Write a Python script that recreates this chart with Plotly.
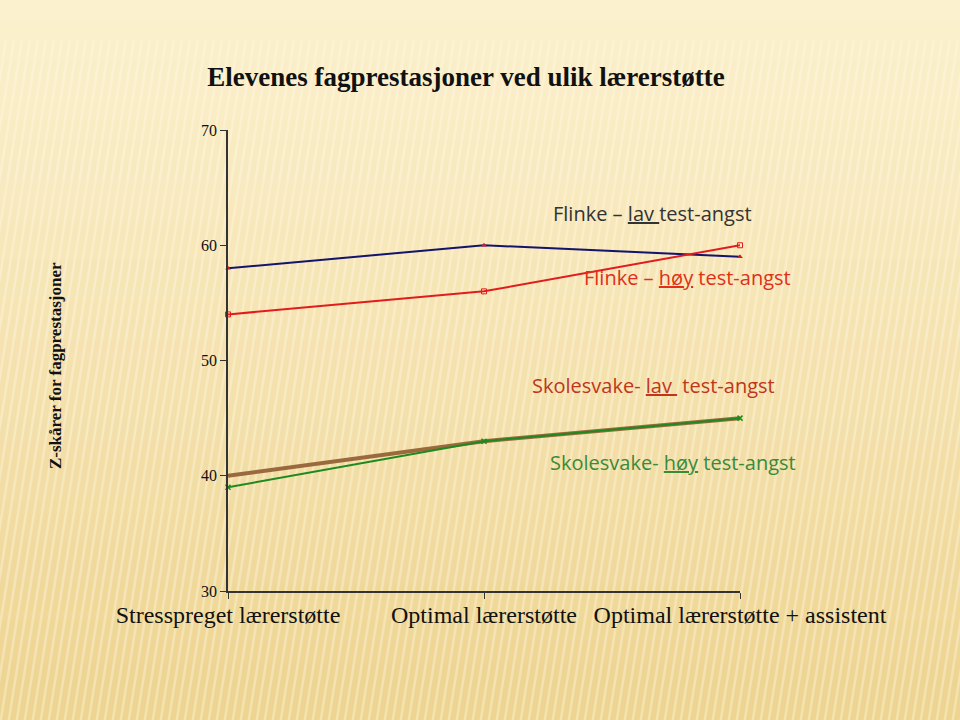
import plotly.graph_objects as go
import numpy as np

categories = ["Stresspreget lærerstøtte", "Optimal lærerstøtte", "Optimal lærerstøtte + assistent"]
flinke_lav = [58, 60, 59]
flinke_hoy = [54, 56, 60]
svake_lav = [40, 43, 45]
svake_hoy = [39, 43, 45]
y_ticks = [30, 40, 50, 60, 70]

xpos = [0, 1, 2]

# plot area geometry in pixels (for converting decorative positions)
L, R, T, B = 228, 740, 130, 591
W, H = R - L, B - T


def px(x):
    return (x - L) / W


def py(y):
    return (B - y) / H


fig = go.Figure()

fig.add_trace(go.Scatter(x=xpos, y=svake_lav, mode="lines", line=dict(color="#9a6a3e", width=4),
                         cliponaxis=False, showlegend=False))
fig.add_trace(go.Scatter(x=xpos, y=svake_hoy, mode="lines+markers", line=dict(color="#1e8a1e", width=2),
                         marker=dict(symbol="x-thin", size=5, line=dict(color="#1e8a1e", width=1.5)),
                         cliponaxis=False, showlegend=False))
fig.add_trace(go.Scatter(x=xpos, y=flinke_lav, mode="lines+markers", line=dict(color="#14146e", width=2),
                         marker=dict(symbol="triangle-up", size=5, color="#d02020"),
                         cliponaxis=False, showlegend=False))
fig.add_trace(go.Scatter(x=xpos, y=flinke_hoy, mode="lines+markers", line=dict(color="#e21c1c", width=2),
                         marker=dict(symbol="square-open", size=5, color="#e21c1c"),
                         cliponaxis=False, showlegend=False))

# background gradient (decorative)
shapes = []
n = 36
top = np.array([252, 241, 206])
bot = np.array([238, 212, 145])
for i in range(n):
    t = i / (n - 1)
    c = top * (1 - t) + bot * t
    y0 = 720 * i / n
    y1 = 720 * (i + 1) / n + 1
    shapes.append(dict(type="rect", xref="paper", yref="paper", layer="below",
                       x0=px(-5), x1=px(965), y0=py(y1), y1=py(y0),
                       fillcolor=f"rgb({int(c[0])},{int(c[1])},{int(c[2])})", line=dict(width=0)))
# subtle stripes
for k in range(-20, 130):
    xb = k * 8
    shapes.append(dict(type="line", xref="paper", yref="paper", layer="below",
                       x0=px(xb), x1=px(xb + 110),
                       y0=py(725), y1=py(40),
                       line=dict(color="rgba(255,252,235,0.35)", width=2.5)))

fig.update_layout(
    width=960, height=720,
    margin=dict(l=L, r=960 - R, t=T, b=720 - B),
    paper_bgcolor="#f7e4ae", plot_bgcolor="rgba(0,0,0,0)",
    shapes=shapes,
    title=dict(text="<b>Elevenes fagprestasjoner ved ulik lærerstøtte</b>", x=466 / 960, xanchor="center",
               y=1 - 77 / 720, yanchor="middle",
               font=dict(family="Liberation Serif", size=27, color="#111111")),
    xaxis=dict(range=[0, 2], tickvals=xpos, ticktext=categories, showline=True, linecolor="#333333",
               linewidth=1.5, ticks="outside", ticklen=6, tickcolor="#333333", showgrid=False,
               ticklabelstandoff=-5,
               zeroline=False, tickfont=dict(family="Liberation Serif", size=24, color="#111111")),
    yaxis=dict(range=[30, 70], tickvals=y_ticks, showline=True, linecolor="#333333", linewidth=1.5,
               ticks="outside", ticklen=6, tickcolor="#333333", showgrid=False, zeroline=False,
               tickfont=dict(family="Liberation Serif", size=16, color="#111111")),
)

fig.add_annotation(x=px(55), y=py(366), xref="paper", yref="paper", showarrow=False, textangle=-90,
                   xanchor="center", yanchor="middle",
                   text="<b>Z-skårer for fagprestasjoner</b>",
                   font=dict(family="Liberation Serif", size=17, color="#111111"))

ann_font = "Open Sans"
anns = [
    (652, 213, "Flinke – <u>lav </u>test-angst", "#333333"),
    (687, 277, "Flinke – <u>høy</u> test-angst", "#e0301a"),
    (653, 385, "Skolesvake- <u>lav </u> test-angst", "#c0361c"),
    (673, 462, "Skolesvake- <u>høy</u> test-angst", "#3a8a3a"),
]
for ax, ay, txt, col in anns:
    fig.add_annotation(x=px(ax), y=py(ay), xref="paper", yref="paper", showarrow=False,
                       xanchor="center", yanchor="middle",
                       text=txt, font=dict(family=ann_font, size=20, color=col))

fig.write_html("out.html")
